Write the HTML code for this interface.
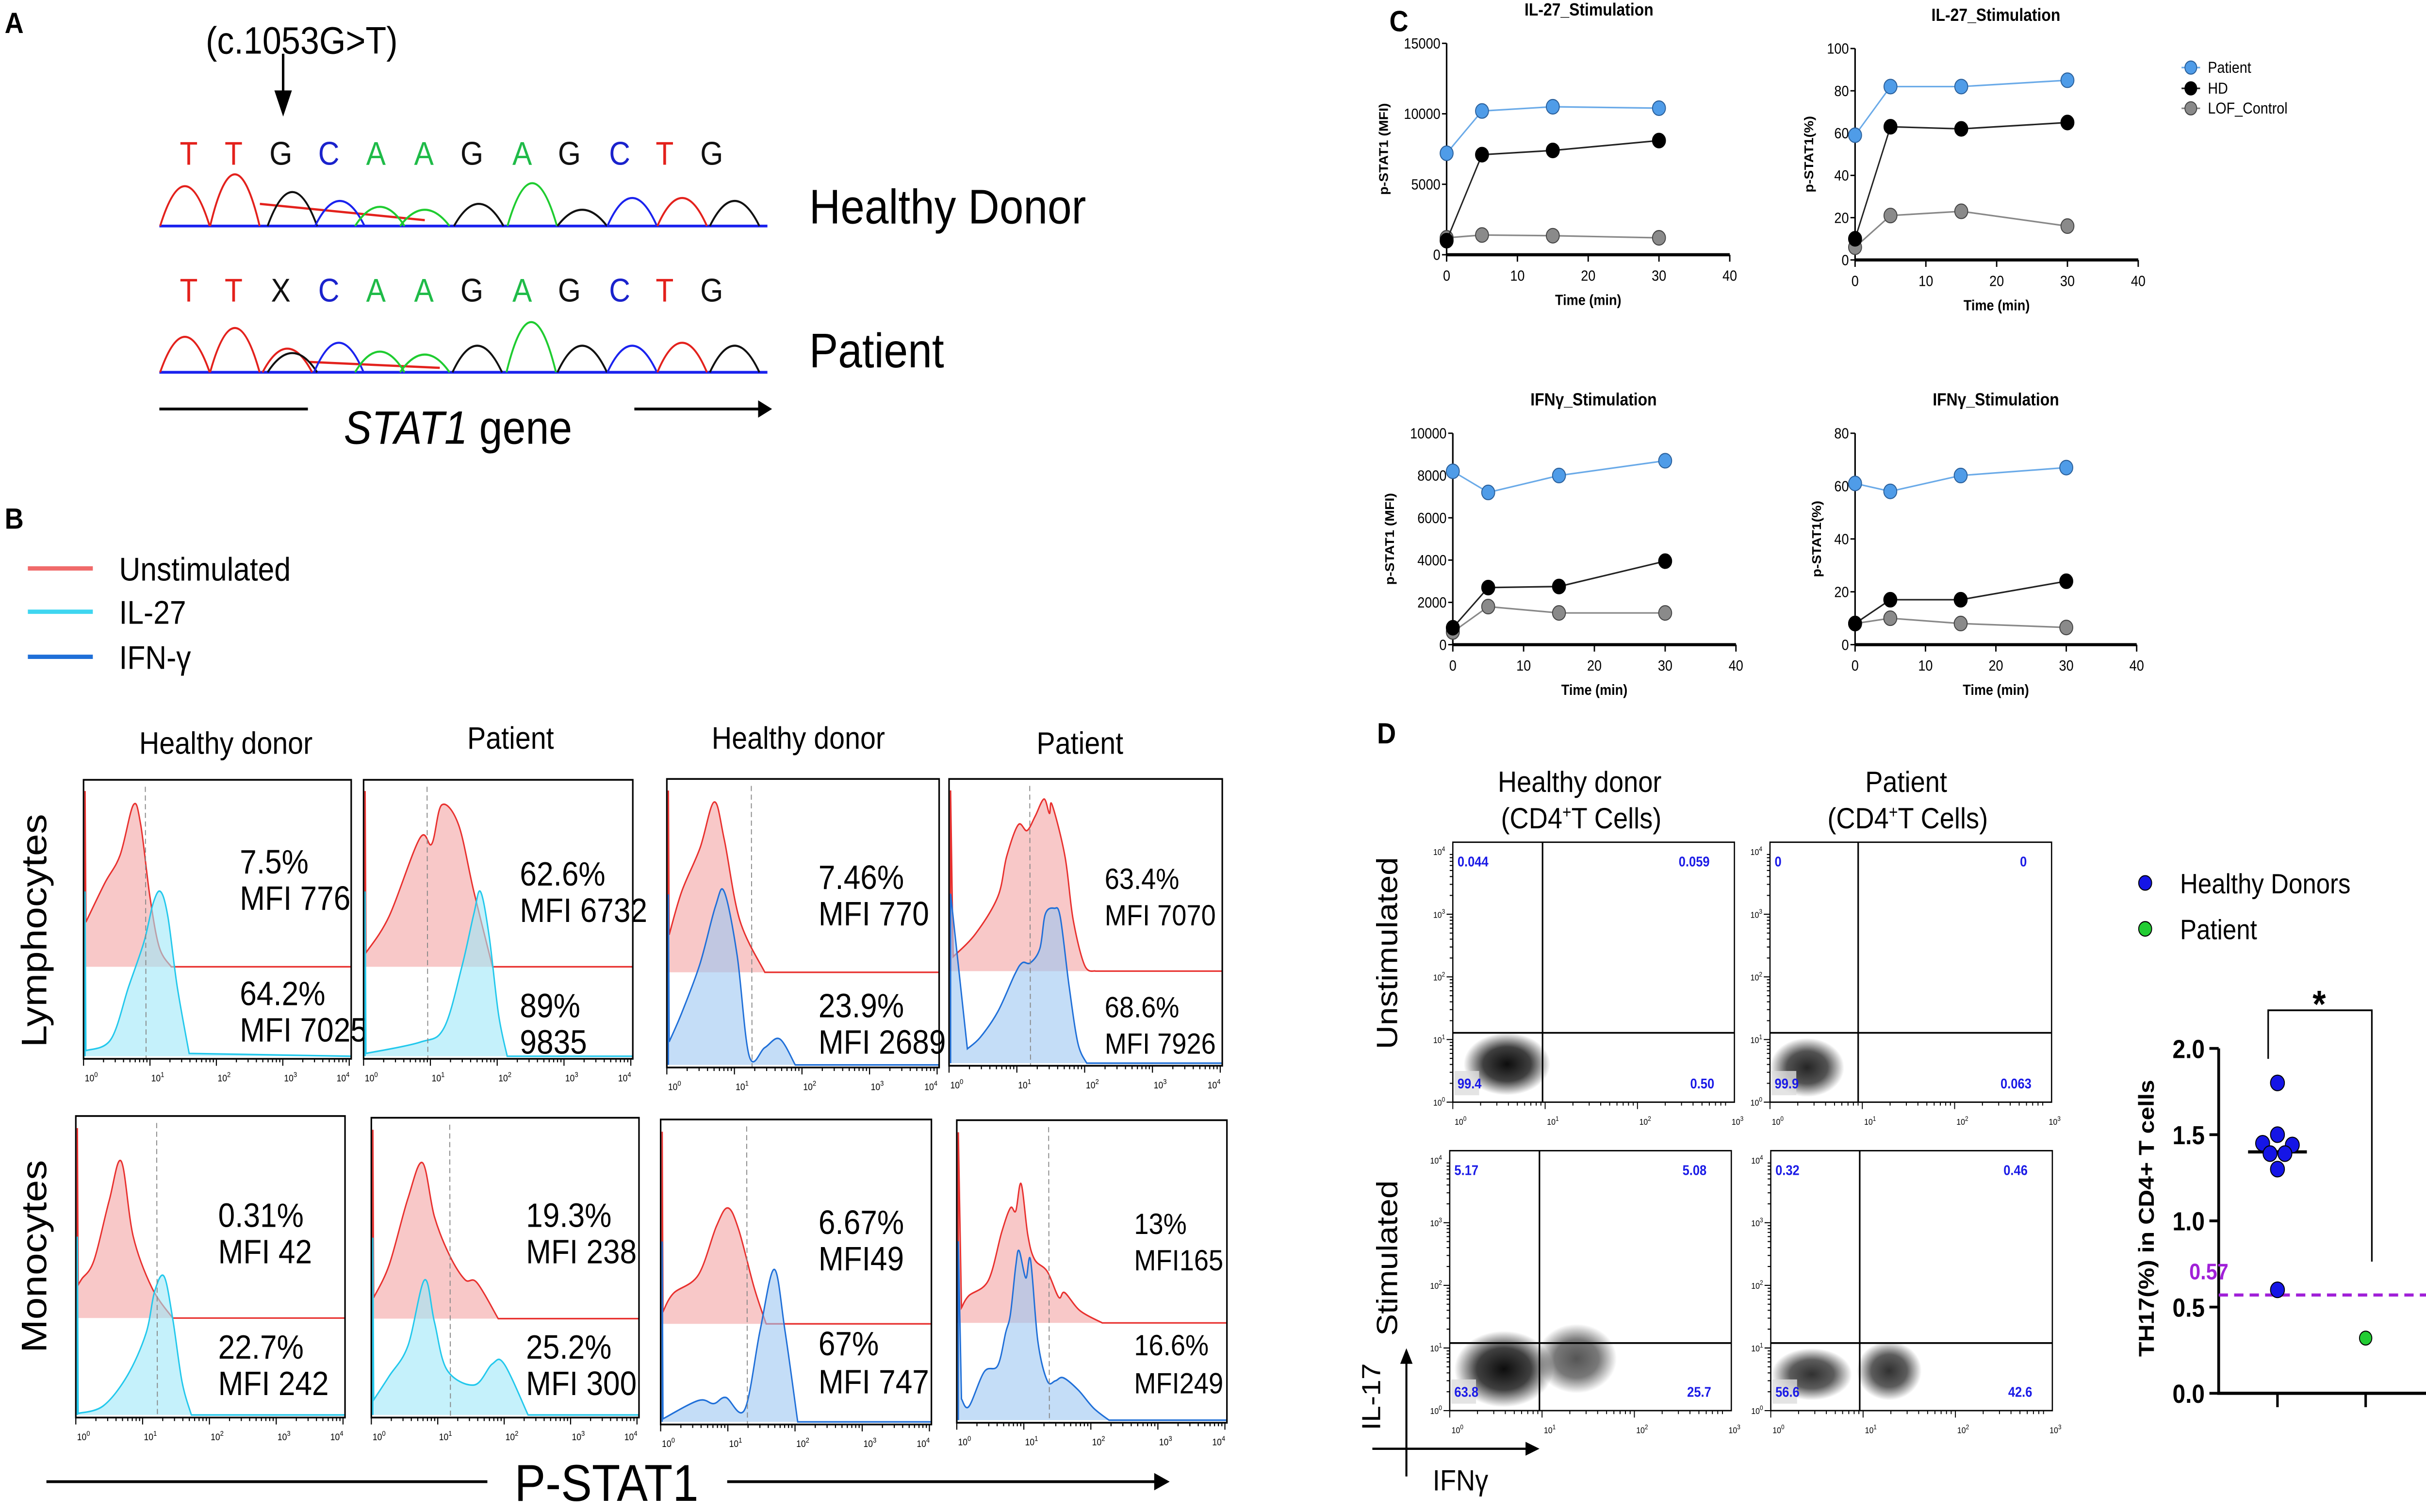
<!DOCTYPE html>
<html><head><meta charset="utf-8"><style>
html,body{margin:0;padding:0;background:#fff;overflow:hidden;width:100vw;height:100vh;}
svg{display:block;width:100vw;height:100vh;}
text{font-family:"Liberation Sans",sans-serif;}
.n{font-family:"Liberation Sans Narrow","Liberation Sans",sans-serif;}
</style></head><body>
<svg id="fig" xmlns="http://www.w3.org/2000/svg" viewBox="0 0 1568 872.5" preserveAspectRatio="none">
<rect x="0" y="0" width="1568" height="872.5" fill="#fff"/>
</svg>
<script>
// ---------- Panel C data ----------
const timeMin=[0,5,15,30];
const il27MfiPatient=[7200,10200,10500,10400];
const il27MfiHD=[1000,7100,7400,8100];
const il27MfiLOF=[1200,1400,1350,1200];
const il27PctPatient=[59,82,82,85];
const il27PctHD=[10,63,62,65];
const il27PctLOF=[6,21,23,16];
const ifngMfiPatient=[8200,7200,8000,8700];
const ifngMfiHD=[800,2700,2750,3950];
const ifngMfiLOF=[600,1800,1500,1500];
const ifngPctPatient=[61,58,64,67];
const ifngPctHD=[8,17,17,24];
const ifngPctLOF=[8,10,8,6.5];
const xTicksC=[0,10,20,30,40];
const yTicksMfi15=[0,5000,10000,15000];
const yTicksPct100=[0,20,40,60,80,100];
const yTicksMfi10=[0,2000,4000,6000,8000,10000];
const yTicksPct80=[0,20,40,60,80];
// ---------- Panel D dot plot data ----------
const th17HD=[1.80,1.50,1.45,1.44,1.39,1.39,1.30,0.60];
const th17HDJitter=[0,0,-0.6,0.6,-0.3,0.3,0,0];
const th17Patient=[0.32];
const th17HDMedian=1.40;
const th17Threshold=0.57;
const th17YTicks=[0,0.5,1.0,1.5,2.0];
// ---------- Panel B histograms (log10 value, height fraction of box) ----------
const h1Red=[[-0.05,0.16],[0.32,0.30],[0.55,0.40],[0.75,0.58],[0.86,0.51],[1.0,0.25],[1.14,0.07],[1.32,0]];
const h1Blue=[[-0.05,0.02],[0.41,0.06],[0.68,0.25],[0.91,0.41],[1.05,0.55],[1.16,0.59],[1.27,0.5],[1.41,0.25],[1.59,0.01]];
const h2Red=[[0,0.05],[0.38,0.18],[0.84,0.46],[1.02,0.44],[1.17,0.58],[1.42,0.51],[1.65,0.27],[1.93,0]];
const h2Blue=[[0,0.01],[0.84,0.05],[1.2,0.1],[1.47,0.32],[1.65,0.51],[1.75,0.59],[1.88,0.43],[2.02,0.15],[2.15,0]];
const h3Red=[[-0.05,0.13],[0.22,0.28],[0.49,0.43],[0.7,0.59],[0.85,0.46],[1.08,0.18],[1.45,0]];
const h3Blue=[[-0.05,0.08],[0.22,0.18],[0.49,0.35],[0.72,0.55],[0.85,0.6],[1.04,0.38],[1.22,0.03],[1.45,0.06],[1.67,0.09],[1.9,0]];
const h4Red=[[0.06,0.05],[0.39,0.13],[0.72,0.26],[0.85,0.4],[1.02,0.51],[1.15,0.49],[1.27,0.54],[1.4,0.6],[1.48,0.55],[1.52,0.58],[1.71,0.4],[1.83,0.18],[2.0,0.02],[2.16,0]];
const h4Blue=[[0.27,0.05],[0.46,0.09],[0.72,0.18],[0.97,0.31],[1.08,0.35],[1.2,0.35],[1.34,0.4],[1.42,0.52],[1.55,0.54],[1.64,0.51],[1.77,0.27],[1.9,0.07],[2.03,0]];
const h5Red=[[-0.06,0.11],[0.09,0.13],[0.27,0.19],[0.5,0.39],[0.68,0.52],[0.86,0.27],[1.14,0.1],[1.45,0]];
const h5Blue=[[-0.05,0.005],[0.41,0.03],[0.77,0.13],[1.05,0.27],[1.18,0.41],[1.32,0.46],[1.45,0.32],[1.59,0.11],[1.73,0]];
const h6Red=[[-0.05,0.07],[0.27,0.18],[0.55,0.4],[0.77,0.52],[0.95,0.34],[1.18,0.21],[1.41,0.13],[1.59,0.12],[1.91,0]];
const h6Blue=[[-0.05,0.05],[0.27,0.13],[0.55,0.23],[0.8,0.45],[0.95,0.31],[1.14,0.15],[1.55,0.1],[1.82,0.17],[2.0,0.17],[2.36,0]];
const h7Red=[[-0.05,0.04],[0.19,0.1],[0.56,0.16],[0.83,0.32],[1.0,0.38],[1.16,0.31],[1.39,0.12],[1.57,0]];
const h7Blue=[[0,0.01],[0.56,0.07],[0.79,0.06],[0.97,0.08],[1.25,0.04],[1.48,0.3],[1.69,0.5],[1.85,0.3],[2.04,0]];
const h8Red=[[0.07,0.05],[0.18,0.09],[0.47,0.14],[0.67,0.3],[0.8,0.38],[0.88,0.37],[0.96,0.46],[1.06,0.29],[1.16,0.21],[1.35,0.17],[1.52,0.085],[1.61,0.1],[1.84,0.04],[2.17,0]];
const h8Blue=[[0.07,0.07],[0.18,0.045],[0.41,0.16],[0.61,0.18],[0.73,0.29],[0.8,0.35],[0.88,0.51],[0.93,0.56],[1.03,0.47],[1.1,0.53],[1.21,0.26],[1.35,0.13],[1.47,0.13],[1.59,0.14],[1.81,0.1],[2.04,0.04],[2.27,0]];
const histGates=[0.93,0.95,1.25,1.19,1.21,1.18,1.28,1.37];
const histLabels=[["7.5%","MFI 776","64.2%","MFI 7025"],["62.6%","MFI 6732","89%","9835"],["7.46%","MFI 770","23.9%","MFI 2689"],["63.4%","MFI 7070","68.6%","MFI 7926"],["0.31%","MFI 42","22.7%","MFI 242"],["19.3%","MFI 238","25.2%","MFI 300"],["6.67%","MFI49","67%","MFI 747"],["13%","MFI165","16.6%","MFI249"]];

const NS='http://www.w3.org/2000/svg';
const svg=document.getElementById('fig');
function mk(tag,a,p){const e=document.createElementNS(NS,tag);for(const k in a)e.setAttribute(k,a[k]);(p||svg).appendChild(e);return e;}
function tx(s,x,y,a,p){const e=mk('text',Object.assign({x:x,y:y},a||{}),p);e.textContent=s;return e;}
function tenPow(x,y,pw,fs,p,anchor){const t=mk('text',{x:x,y:y,'font-size':fs,'text-anchor':anchor||'middle',fill:'#000'},p);const a=mk('tspan',{},t);a.textContent='10';const b=mk('tspan',{dy:-fs*0.45,'font-size':fs*0.75},t);b.textContent=String(pw);return t;}

// ================= Panel A =================
const gA=mk('g',{});


let t=tx('A',3,19,{'font-size':17,'font-weight':'bold'},gA);


t=tx('(c.1053G>T)',195,31,{'font-size':22,'text-anchor':'middle',class:'n'},gA);


let ar=mk('path',{d:'M183,31 L183,57 M178.5,53 L183,65 L187.5,53 Z',stroke:'#000','stroke-width':1.6,fill:'#000'},gA);


const baseCol={T:'#e3211c',G:'#111',C:'#1a22cc',A:'#1fbb48',X:'#111'};
const letterX=[122,151,181.5,212.5,243,274,305,337.5,368,400.5,429.6,460];
function seqRow(s,y,name){const g=mk('g',{},gA);
 for(let i=0;i<s.length;i++){const e=tx(s[i],letterX[i],y,{'font-size':19,'text-anchor':'middle',fill:baseCol[s[i]],class:'n'},g);}}
seqRow('TTGCAAGAGCTG',95,'healthy-sequence');
seqRow('TTXCAAGAGCTG',174,'patient-sequence');
const chromTop=[[370,630,'#e3211c'],[470,590,'#e3211c'],[585,650,'#111'],[680,680,'#1a22ee'],[760,700,'#1fcc30'],[850,710,'#1fcc30'],[958,690,'#111'],[1065,620,'#1fcc30'],[1165,710,'#111'],[1265,670,'#1a22ee'],[1365,670,'#e3211c'],[1470,680,'#111']];
const chromBot=[[370,1140,'#e3211c'],[470,1110,'#e3211c'],[575,1180,'#e3211c'],[585,1195,'#111'],[678,1160,'#1a22ee'],[760,1190,'#1fcc30'],[850,1200,'#1fcc30'],[955,1170,'#111'],[1063,1090,'#1fcc30'],[1165,1170,'#111'],[1265,1170,'#1a22ee'],[1365,1160,'#e3211c'],[1470,1170,'#111']];
function chrom(peaks,base,plat,name){const g=mk('g',{},gA);
 const by=base*0.1705;
 let l=mk('line',{x1:103,y1:by,x2:496,y2:by,stroke:'#1a22ee','stroke-width':1.6},g);
 let pl=mk('polyline',{points:`${plat[0]*0.323},${plat[1]*0.1705} ${plat[2]*0.323},${plat[3]*0.1705}`,stroke:'#e3211c','stroke-width':1.3,fill:'none'},g);
 for(const p of peaks){const x=p[0]*0.323,y=p[1]*0.1705;const e=mk('path',{d:`M${x-16},${by} Q${x},${2*y-by+ (by-y)*0.0} ${x+16},${by}`,stroke:p[2],'stroke-width':1.2,fill:'none','stroke-linejoin':'round'},g);}}
chrom(chromTop,765,[520,690,850,745],'healthy-chromatogram');
chrom(chromBot,1260,[620,1225,880,1245],'patient-chromatogram');
t=tx('Healthy Donor',523,129,{'font-size':28},gA);


t=tx('Patient',523,212,{'font-size':28},gA);


let gl=mk('path',{d:'M103,236 L199,236 M410,236 L492,236',stroke:'#000','stroke-width':1.6},gA);


gl=mk('path',{d:'M490,231 L499,236 L490,241 Z',fill:'#000'},gA);


t=mk('text',{x:296,y:256,'font-size':27,'text-anchor':'middle'},gA);


let ts=mk('tspan',{'font-style':'italic'},t);ts.textContent='STAT1';
ts=mk('tspan',{},t);ts.textContent=' gene';

// ================= Panel B =================
const gB=mk('g',{});


t=tx('B',3,305,{'font-size':17,'font-weight':'bold'},gB);


const legB=[['Unstimulated','#f06a6a',328],['IL-27','#3fd6f0',353],['IFN-γ','#1f6fd8',379]];
for(const L of legB){const g=mk('g',{},gB);
 const l=mk('line',{x1:18,y1:L[2],x2:60,y2:L[2],stroke:L[1],'stroke-width':2.5},g);
 const e=tx(L[0],77,L[2]+7,{'font-size':19},g);}
const colLabs=[['Healthy donor',146,435],['Patient',330,432],['Healthy donor',516,432],['Patient',698,435]];
for(const c of colLabs){const e=tx(c[0],c[1],c[2],{'font-size':18,'text-anchor':'middle'},gB);}
t=tx('Lymphocytes',0,0,{'font-size':23,'text-anchor':'middle',transform:'translate(30,537) rotate(-90)'},gB);


t=tx('Monocytes',0,0,{'font-size':23,'text-anchor':'middle',transform:'translate(30,725) rotate(-90)'},gB);


gl=mk('path',{d:'M30,855 L315,855 M470,855 L748,855',stroke:'#000','stroke-width':1.6},gB);


gl=mk('path',{d:'M746,850 L756,855 L746,860 Z',fill:'#000'},gB);


t=tx('P-STAT1',392,866,{'font-size':30,'text-anchor':'middle'},gB);



const boxes=[
 {x:54,y:450,w:173,h:161,ifn:false,wide:false,red:h1Red,blue:h1Blue,tx:155,ty:[497,518,573,594]},
 {x:235,y:450,w:174,h:161,ifn:false,wide:false,red:h2Red,blue:h2Blue,tx:336,ty:[504,525,580,601]},
 {x:431,y:449.5,w:176,h:166.5,ifn:true,wide:false,red:h3Red,blue:h3Blue,tx:529,ty:[506,527,580,601]},
 {x:613.4,y:449.5,w:176.6,h:165.5,ifn:true,wide:true,red:h4Red,blue:h4Blue,tx:714,ty:[506,527,580,601]},
 {x:49,y:644,w:174,h:174,ifn:false,wide:false,red:h5Red,blue:h5Blue,tx:141,ty:[701,722,777,798]},
 {x:240,y:645,w:173,h:173,ifn:false,wide:false,red:h6Red,blue:h6Blue,tx:340,ty:[701,722,777,798]},
 {x:427,y:646,w:175,h:176,ifn:true,wide:false,red:h7Red,blue:h7Blue,tx:529,ty:[705,726,775,797]},
 {x:618.4,y:646.4,w:174.6,h:174.6,ifn:true,wide:true,red:h8Red,blue:h8Blue,tx:733,ty:[705,726,775,797]}];
function crPath(P){let d='';for(let i=0;i<P.length-1;i++){const p0=P[Math.max(0,i-1)],p1=P[i],p2=P[i+1],p3=P[Math.min(P.length-1,i+2)];
 const c1=[p1[0]+(p2[0]-p0[0])/6,p1[1]+(p2[1]-p0[1])/6],c2=[p2[0]-(p3[0]-p1[0])/6,p2[1]-(p3[1]-p1[1])/6];
 d+=` C${c1[0].toFixed(2)},${c1[1].toFixed(2)} ${c2[0].toFixed(2)},${c2[1].toFixed(2)} ${p2[0].toFixed(2)},${p2[1].toFixed(2)}`;}return d;}
boxes.forEach((b,bi)=>{
 const g=mk('g',{},gB);
 
 
 const dec=b.w/4.03;
 const xs=v=>Math.max(b.x+1.5,b.x+v*dec);
 const redBase=b.y+0.67*b.h, blueBase=b.y+b.h-1.5;
 const redPts=b.red.map(p=>[xs(p[0]),redBase-p[1]*b.h]);
 const bluePts=b.blue.map(p=>[xs(p[0]),blueBase-p[1]*b.h]);
 const bs=b.ifn?'#1f6fd8':'#22c8ec', bf=b.ifn?'#9cc6f2':'#9fe8f8';
 let f=mk('path',{d:`M${b.x+1},${redBase} L${b.x+1},${b.y+0.04*b.h} L${redPts[0][0]},${redPts[0][1]}`+crPath(redPts)+` L${b.x+b.w},${redBase} Z`,fill:'#f8c8c8',stroke:'none'},g);
 
 
 f=mk('path',{d:`M${b.x+1},${redBase} L${b.x+1},${b.y+0.04*b.h} L${redPts[0][0]},${redPts[0][1]}`+crPath(redPts)+` L${b.x+b.w},${redBase}`,fill:'none',stroke:'#e8302e','stroke-width':0.9},g);
 
 
 f=mk('path',{d:`M${b.x+1},${blueBase} L${b.x+1},${b.y+0.4*b.h} L${bluePts[0][0]},${bluePts[0][1]}`+crPath(bluePts)+` L${b.x+b.w},${blueBase} Z`,fill:bf,'fill-opacity':0.6,stroke:'none'},g);
 
 
 f=mk('path',{d:`M${b.x+1},${blueBase} L${b.x+1},${b.y+0.4*b.h} L${bluePts[0][0]},${bluePts[0][1]}`+crPath(bluePts)+` L${b.x+b.w},${blueBase}`,fill:'none',stroke:bs,'stroke-width':0.9},g);
 
 
 const gx=b.x+histGates[bi]*dec;
 f=mk('line',{x1:gx,y1:b.y+4,x2:gx+0.5,y2:b.y+b.h,stroke:'#888','stroke-width':0.6,'stroke-dasharray':'3,2'},g);
 
 
 f=mk('rect',{x:b.x,y:b.y,width:b.w,height:b.h,fill:'none',stroke:'#000','stroke-width':1},g);
 
 
 let d='';
 for(let k=0;k<4;k++){for(let m=1;m<=9;m++){const x=b.x+(k+Math.log10(m))*dec;d+=`M${x},${b.y+b.h} L${x},${b.y+b.h+(m==1?4:2)} `;}}
 d+=`M${b.x+4*dec},${b.y+b.h} L${b.x+4*dec},${b.y+b.h+4}`;
 f=mk('path',{d:d,stroke:'#000','stroke-width':0.7},g);
 
 
 for(let k=0;k<=4;k++){const e=tenPow(b.x+k*dec+(k==4?-4:5),b.y+b.h+13,k,5.5,g);}
 const L=histLabels[bi];
 for(let i=0;i<4;i++){const e=tx(L[i],b.tx,b.ty[i]+7,{'font-size':b.wide?17:19.5,class:b.wide?'':'n'},g);}
});

// ================= Panel C =================
const gC=mk('g',{});


t=tx('C',898,18,{'font-size':17,'font-weight':'bold'},gC);


const seriesStyle={patient:{fill:'#4f9ce8',line:'#6aaae8',stroke:'#2a5f9a'},hd:{fill:'#000',line:'#222',stroke:'#000'},lof:{fill:'#8a8a8a',line:'#888',stroke:'#444'}};
function lineChart(c){
 const g=mk('g',{},gC);
 
 
 const sx=v=>c.x0+v/40*(c.x1-c.x0), sy=v=>c.y0-v/c.ymax*(c.y0-c.yTop);
 let e=mk('line',{x1:c.x0,y1:sy(c.ymax),x2:c.x0,y2:c.y0,stroke:'#000','stroke-width':1},g);
 
 
 e=mk('line',{x1:c.x0,y1:c.y0,x2:c.x1,y2:c.y0,stroke:'#000','stroke-width':1.8},g);
 
 
 for(const v of c.yt){const tk=mk('line',{x1:c.x0-3,y1:sy(v),x2:c.x0,y2:sy(v),stroke:'#000','stroke-width':0.8},g);
  const l=tx(String(v),c.x0-4,sy(v)+3,{'font-size':8.5,'text-anchor':'end',class:'n'},g);}
 for(const v of xTicksC){const tk=mk('line',{x1:sx(v),y1:c.y0,x2:sx(v),y2:c.y0+4,stroke:'#000','stroke-width':0.9},g);
  const l=tx(String(v),sx(v),c.y0+15,{'font-size':8.5,'text-anchor':'middle',class:'n'},g);}
 e=tx('Time (min)',(c.x0+c.x1)/2,c.y0+29,{'font-size':8.5,'text-anchor':'middle','font-weight':'bold',class:'n'},g);
 
 
 e=tx(c.title,c.tx,c.ty,{'font-size':10,'text-anchor':'middle','font-weight':'bold',class:'n'},g);
 
 
 e=tx(c.ylab,0,0,{'font-size':8,'text-anchor':'middle','font-weight':'bold',transform:`translate(${c.ylx},${(c.y0+sy(c.ymax))/2}) rotate(-90)`},g);
 
 
 for(const s of c.series){const st=seriesStyle[s.k];
  const pl=mk('polyline',{points:timeMin.map((tm,i)=>sx(tm)+','+sy(s.v[i])).join(' '),fill:'none',stroke:st.line,'stroke-width':0.9},g);
  
  
  timeMin.forEach((tm,i)=>{const m=mk('circle',{cx:sx(tm),cy:sy(s.v[i]),r:4.2,fill:st.fill,stroke:st.stroke,'stroke-width':0.6},g);});}
}
lineChart({name:'il27-mfi-chart',x0:935,x1:1118,y0:147,yTop:25,ymax:15000,yt:yTicksMfi15,title:'IL-27_Stimulation',tx:1027,ty:9,ylab:'p-STAT1 (MFI)',ylx:897,
 series:[{k:'lof',v:il27MfiLOF},{k:'hd',v:il27MfiHD},{k:'patient',v:il27MfiPatient}]});
lineChart({name:'il27-pct-chart',x0:1199,x1:1382,y0:150,yTop:28,ymax:100,yt:yTicksPct100,title:'IL-27_Stimulation',tx:1290,ty:12,ylab:'p-STAT1(%)',ylx:1172,
 series:[{k:'lof',v:il27PctLOF},{k:'hd',v:il27PctHD},{k:'patient',v:il27PctPatient}]});
lineChart({name:'ifng-mfi-chart',x0:939,x1:1122,y0:372,yTop:250,ymax:10000,yt:yTicksMfi10,title:'IFNγ_Stimulation',tx:1030,ty:234,ylab:'p-STAT1 (MFI)',ylx:901,
 series:[{k:'lof',v:ifngMfiLOF},{k:'hd',v:ifngMfiHD},{k:'patient',v:ifngMfiPatient}]});
lineChart({name:'ifng-pct-chart',x0:1199,x1:1381,y0:372,yTop:250,ymax:80,yt:yTicksPct80,title:'IFNγ_Stimulation',tx:1290,ty:234,ylab:'p-STAT1(%)',ylx:1177,
 series:[{k:'lof',v:ifngPctLOF},{k:'hd',v:ifngPctHD},{k:'patient',v:ifngPctPatient}]});
const legC=[['Patient','patient',39],['HD','hd',51],['LOF_Control','lof',62.5]];
for(const L of legC){const st=seriesStyle[L[1]];const g=mk('g',{},gC);
 const l=mk('line',{x1:1410,y1:L[2],x2:1422,y2:L[2],stroke:st.line,'stroke-width':0.9},g);
 const c=mk('circle',{cx:1416,cy:L[2],r:3.8,fill:st.fill,stroke:st.stroke,'stroke-width':0.6},g);
 const e=tx(L[0],1427,L[2]+3,{'font-size':9,class:'n'},g);}

// ================= Panel D =================
const gD=mk('g',{});


const defs=mk('defs',{});
const rg=mk('radialGradient',{id:'cloud'},defs);
mk('stop',{offset:'0','stop-color':'#000','stop-opacity':0.95},rg);
mk('stop',{offset:'0.55','stop-color':'#000','stop-opacity':0.75},rg);
mk('stop',{offset:'1','stop-color':'#000','stop-opacity':0},rg);
t=tx('D',890,429,{'font-size':17,'font-weight':'bold'},gD);


const dTitles=[['Healthy donor',1021,457],['Patient',1232,457]];
for(const d of dTitles){let e=tx(d[0],d[1],d[2],{'font-size':17,'text-anchor':'middle',class:'n'},gD);
 const s=mk('text',{x:d[1]+1,y:d[2]+21,'font-size':17,'text-anchor':'middle',class:'n'},gD);
 let a=mk('tspan',{},s);a.textContent='(CD4';a=mk('tspan',{dy:-6,'font-size':10},s);a.textContent='+';a=mk('tspan',{dy:6},s);a.textContent='T Cells)';}
t=tx('Unstimulated',0,0,{'font-size':19,'text-anchor':'middle',transform:'translate(903,550) rotate(-90)'},gD);


t=tx('Stimulated',0,0,{'font-size':19,'text-anchor':'middle',transform:'translate(903,726) rotate(-90)'},gD);


const plots=[
 {x:939,y:486,w:182,h:150,vx:997,hy:596,q:['0.044','0.059','99.4','0.50'],cl:[[974,614,28,18,1]]},
 {x:1144,y:486,w:182,h:150,vx:1201,hy:596,q:['0','0','99.9','0.063'],cl:[[1168,616,24,17,0.9]]},
 {x:937,y:664,w:182,h:150,vx:995,hy:775,q:['5.17','5.08','63.8','25.7'],cl:[[972,790,32,22,1],[1019,784,26,20,0.7]]},
 {x:1144.5,y:664,w:182,h:150,vx:1202,hy:775,q:['0.32','0.46','56.6','42.6'],cl:[[1171,793,26,15,0.85],[1221,791,21,17,0.85]]}];
plots.forEach((p,pi)=>{
 const g=mk('g',{},gD);
 
 
 for(const c of p.cl){const e=mk('ellipse',{cx:c[0],cy:c[1],rx:c[2],ry:c[3],fill:'url(#cloud)','fill-opacity':c[4]},g);}
 let e=mk('rect',{x:p.x+1,y:p.y+p.h-18,width:16,height:14,fill:'#ddd','fill-opacity':0.8},g);
 
 
 e=mk('rect',{x:p.x,y:p.y,width:p.w,height:p.h,fill:'none',stroke:'#000','stroke-width':0.8},g);
 
 
 e=mk('path',{d:`M${p.vx},${p.y} L${p.vx},${p.y+p.h} M${p.x},${p.hy} L${p.x+p.w},${p.hy}`,stroke:'#000','stroke-width':1},g);
 
 
 const qa=[[p.x+3,p.y+14,'start'],[p.x+p.w-16,p.y+14,'end'],[p.x+3,p.y+p.h-8,'start'],[p.x+p.w-13,p.y+p.h-8,'end']];
 qa.forEach((a,i)=>{const l=tx(p.q[i],a[0],a[1],{'font-size':8,'font-weight':'bold',fill:'#1a1ae6','text-anchor':a[2],class:'n'},g);});
 const yd=p.h/4.15, xd=p.w/3.05;
 for(let k=0;k<=4;k++){const l=tenPow(p.x-5,p.y+p.h-k*yd+2,k,5,g,'end');}
 for(let k=0;k<=3;k++){const l=tenPow(p.x+k*xd+5,p.y+p.h+13,k,5,g);}
 let d='';for(let k=0;k<3;k++){for(let m=1;m<=9;m++){const x=p.x+(k+Math.log10(m))*xd;d+=`M${x},${p.y+p.h} L${x},${p.y+p.h+(m==1?4:2)} `;}}
 for(let k=0;k<4;k++){for(let m=1;m<=9;m++){const y=p.y+p.h-(k+Math.log10(m))*yd;d+=`M${p.x},${y} L${p.x-(m==1?4:2)},${y} `;}}
 e=mk('path',{d:d,stroke:'#000','stroke-width':0.6},g);
 
 
});
gl=mk('path',{d:'M909,852 L909,785 M887,836 L988,836',stroke:'#000','stroke-width':1.3},gD);


gl=mk('path',{d:'M905,787 L909,778 L913,787 Z M986,832 L995,836 L986,840 Z',fill:'#000'},gD);


t=tx('IL-17',0,0,{'font-size':17,'text-anchor':'middle',transform:'translate(892,806) rotate(-90)',class:'n'},gD);


t=tx('IFNγ',926,860,{'font-size':17,class:'n'},gD);


const gDot=mk('g',{},gD);


const dx0=1434,dy0=804,dyTop=605,xHD=1472,xPat=1529;
const dY=v=>dy0-v/2*(dy0-dyTop);
let e=mk('path',{d:`M${dx0},${dY(2)} L${dx0},${dy0} L1568,${dy0}`,stroke:'#000','stroke-width':1.8,fill:'none'},gDot);


for(const v of th17YTicks){const tk=mk('line',{x1:dx0-6,y1:dY(v),x2:dx0,y2:dY(v),stroke:'#000','stroke-width':1.6},gDot);
 const l=tx(v.toFixed(1),dx0-9,dY(v)+5.5,{'font-size':15,'font-weight':'bold','text-anchor':'end',class:'n'},gDot);}
for(const x of [xHD,xPat]){const tk=mk('line',{x1:x,y1:dy0,x2:x,y2:dy0+8,stroke:'#000','stroke-width':1.6},gDot);}
e=tx('TH17(%) in CD4+ T cells',0,0,{'font-size':14,'font-weight':'bold','text-anchor':'middle',transform:'translate(1392,703) rotate(-90)'},gDot);


e=mk('line',{x1:dx0,y1:dY(th17Threshold),x2:1568,y2:dY(th17Threshold),stroke:'#a020d8','stroke-width':1.8,'stroke-dasharray':'6,4'},gDot);


e=tx(String(th17Threshold),1415,dY(th17Threshold)-9,{'font-size':13,'font-weight':'bold',fill:'#a020d8',class:'n'},gDot);


e=mk('line',{x1:xHD-19,y1:dY(th17HDMedian),x2:xHD+19,y2:dY(th17HDMedian),stroke:'#000','stroke-width':1.8},gDot);


th17HD.forEach((v,i)=>{const c=mk('circle',{cx:xHD+th17HDJitter[i]*16,cy:dY(v),r:4.5,fill:'#1515e6',stroke:'#000','stroke-width':0.6},gDot);});
th17Patient.forEach(v=>{const c=mk('circle',{cx:xPat,cy:dY(v),r:4,fill:'#22cc33',stroke:'#000','stroke-width':0.6},gDot);});
e=mk('path',{d:`M1466,611 L1466,583 L1533,583 L1533,728`,stroke:'#000','stroke-width':1,fill:'none'},gDot);


e=tx('*',1499,587,{'font-size':22,'font-weight':'bold','text-anchor':'middle'},gDot);


const legD=[['Healthy Donors','#1515e6',509.5],['Patient','#22cc33',536]];
for(const L of legD){const g=mk('g',{},gD);
 const c=mk('circle',{cx:1386.5,cy:L[2],r:4.2,fill:L[1],stroke:'#000','stroke-width':0.6},g);
 const l=tx(L[0],1409,L[2]+6,{'font-size':16,class:'n'},g);}
</script>
</body></html>
